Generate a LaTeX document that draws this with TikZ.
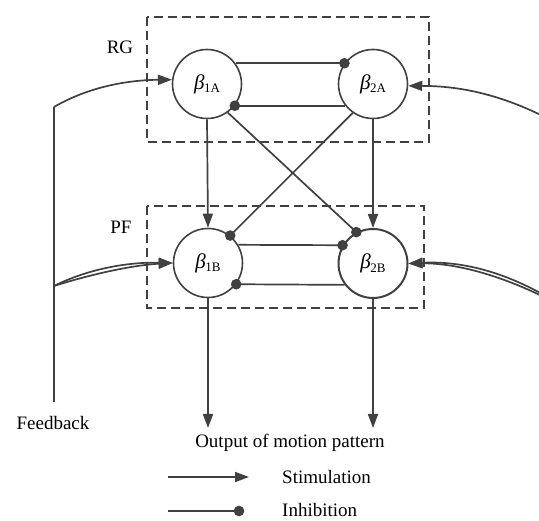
\documentclass[tikz,border=0pt]{standalone}
\usepackage{fontspec}
\setmainfont{Liberation Serif}
\usetikzlibrary{arrows.meta}
\definecolor{lc}{RGB}{64,64,64}
\newcommand\bsub[1]{{\fontsize{21}{22}\selectfont\itshape β}\kern-0.5pt\raisebox{-3.5pt}{\fontsize{13}{13}\selectfont #1}}
\begin{document}
\begin{tikzpicture}[x=1pt,y=-1pt,
  every node/.style={font=\fontsize{19}{22}\selectfont,text=black,inner sep=1pt},
  neuron/.style={circle,draw=lc,line width=1.6pt,minimum size=69pt,inner sep=0pt},
  conn/.style={draw=lc,line width=1.7pt},
  stim/.style={conn,-{Triangle[length=14pt,width=10pt]}},
  inh/.style={conn,-{Circle[length=10.5pt]},shorten >=-5.25pt},
  dashbox/.style={draw=lc,line width=2.2pt,dash pattern=on 9pt off 5pt}]
\useasboundingbox (0,0) rectangle (539,521);
\clip (0,0) rectangle (539,521);

% boxes
\draw[dashbox] (147,17) rectangle (429,142);
\draw[dashbox] (147,206) rectangle (424,308);
\node (rg) at (120,47) {RG};
\node (pf) at (121,227) {PF};

% neurons
\node[neuron] (A1) at (207,84) {\bsub{1A}};
\node[neuron] (A2) at (373,84) {\bsub{2A}};
\node[neuron] (B1) at (208,263) {\bsub{1B}};
\node[neuron,line width=2pt] (B2) at (373,263.5) {\bsub{2B}};

% mutual inhibition
\draw[inh] (A1.36) -- (A2.144);
\draw[inh] (A2.-142) -- (A1.-38);
\draw[inh] (B1.31) -- (B2.149);
\draw[inh] (B2.-143) -- (B1.-37);
% cross inhibition
\draw[inh] (A1.-54) -- (B2.118);
\draw[inh] (A2.-125) -- (B1.51);
% stimulation down
\draw[stim] (A1.south) -- (B1.north);
\draw[stim] (A2.south) -- (B2.north);

% outputs
\coordinate (o1) at (208,428);
\coordinate (o2) at (373,428);
\draw[stim] (B1.south) -- (o1);
\draw[stim] (B2.south) -- (o2);
\node (out) at (290,443) {Output of motion pattern};

% feedback
\coordinate (fbt) at (54,107);
\coordinate (fbm) at (54,286);
\coordinate (fbb) at (54,402);
\draw[conn] (fbt) -- (fbb);
\node (fb) at (53,423) {Feedback};
\draw[stim] (fbt) .. controls (90,86) and (130,80) .. (A1.173);
\draw[stim] (fbm) .. controls (90,268) and (130,262) .. (B1.west);
\draw[stim] (fbm) .. controls (95,273) and (135,265) .. (B1.west);

\coordinate (r1) at (565,128);
\coordinate (r2) at (565,308);
\draw[stim] (r1) .. controls (500,90) and (450,86) .. (A2.-3);
\draw[stim] (r2) .. controls (500,272) and (450,263) .. (B2.east);
\draw[stim] (r2) .. controls (505,268) and (455,261) .. (B2.east);

% legend
\coordinate (s1) at (168,477);
\coordinate (s2) at (249,477);
\coordinate (i1) at (168,511);
\coordinate (i2) at (239,511);
\draw[stim] (s1) -- (s2);
\draw[inh] (i1) -- (i2);
\node[anchor=west] (st) at (281,477) {Stimulation};
\node[anchor=west] (in) at (281,510) {Inhibition};
\end{tikzpicture}
\end{document}
